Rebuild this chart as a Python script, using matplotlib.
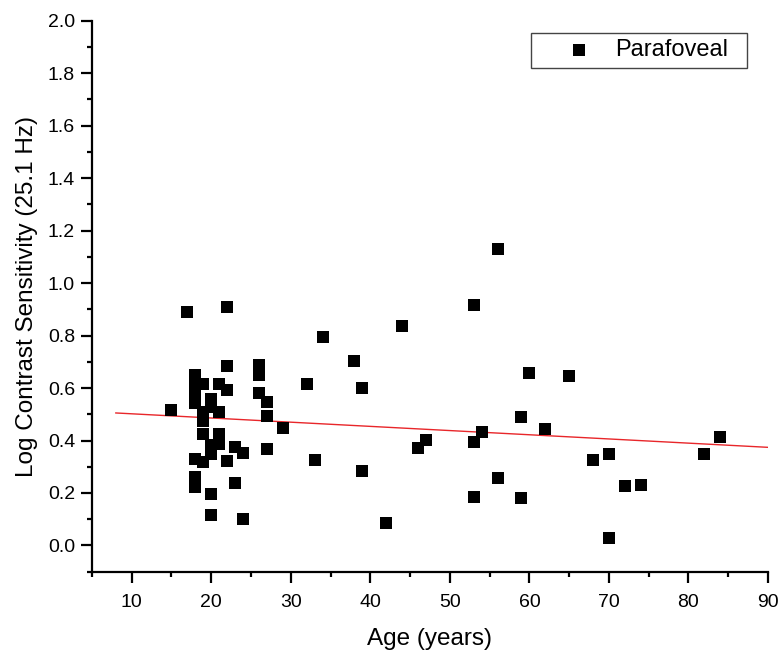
import matplotlib
matplotlib.use("Agg")
import matplotlib.pyplot as plt
from matplotlib.ticker import MultipleLocator
from matplotlib.patches import Rectangle

plt.rcParams['font.family'] = ['Liberation Sans', 'DejaVu Sans']

age = [15, 17,
       18, 18, 18, 18, 18, 18, 18,
       19, 19, 19, 19, 19,
       20, 20, 20, 20, 20, 20,
       21, 21, 21, 21,
       22, 22, 22, 22,
       23, 23, 24, 24,
       26, 26, 26, 27, 27, 27, 29,
       32, 33, 34, 38, 39, 39, 42, 44, 46, 47,
       53, 53, 53, 54, 56, 56, 59, 59, 60, 62, 65,
       68, 70, 70, 72, 74, 82, 84]
lcs = [0.518, 0.890,
       0.649, 0.614, 0.578, 0.543, 0.330, 0.261, 0.223,
       0.614, 0.508, 0.473, 0.423, 0.317,
       0.558, 0.528, 0.382, 0.347, 0.197, 0.116,
       0.614, 0.508, 0.426, 0.387,
       0.910, 0.684, 0.594, 0.322,
       0.377, 0.237, 0.352, 0.101,
       0.689, 0.649, 0.580, 0.546, 0.493, 0.368, 0.448,
       0.614, 0.327, 0.795, 0.704, 0.601, 0.282, 0.086, 0.835, 0.372, 0.403,
       0.915, 0.393, 0.183, 0.433, 1.129, 0.257, 0.488, 0.181, 0.659, 0.442, 0.646,
       0.325, 0.348, 0.028, 0.225, 0.232, 0.347, 0.412]

fit_x = [8, 90]
fit_y = [0.505, 0.374]

fig = plt.figure(figsize=(7.8, 6.53), dpi=100)
ax = fig.add_axes([0.1179, 0.1245, 0.8667, 0.8438])

ax.scatter(age, lcs, marker='s', s=66, color='black', linewidths=0, label='Parafoveal', zorder=3)
ax.plot(fit_x, fit_y, color='#e8262a', lw=1.0, zorder=2)

ax.set_xlim(5, 90)
ax.set_ylim(-0.1, 2.0)
ax.xaxis.set_minor_locator(MultipleLocator(5))
ax.yaxis.set_minor_locator(MultipleLocator(0.1))
ax.set_xticks(range(10, 91, 10))
ax.set_yticks([0.0, 0.2, 0.4, 0.6, 0.8, 1.0, 1.2, 1.4, 1.6, 1.8, 2.0])
ax.set_yticklabels(['0.0', '0.2', '0.4', '0.6', '0.8', '1.0', '1.2', '1.4', '1.6', '1.8', '2.0'])

for s in ['top', 'right']:
    ax.spines[s].set_visible(False)
for s in ['left', 'bottom']:
    ax.spines[s].set_linewidth(1.6)

ax.tick_params(which='major', direction='out', length=7.7, width=1.6, labelsize=14)
ax.tick_params(which='minor', direction='out', length=3.6, width=1.6)
ax.tick_params(axis='x', which='major', pad=8.5)
ax.tick_params(axis='y', which='major', pad=4.5)

ax.set_xlabel('Age (years)', fontsize=17.5, labelpad=12)
ax.set_ylabel('Log Contrast Sensitivity (25.1 Hz)', fontsize=17.5, labelpad=7)

# legend: box + entry
fig.patches.append(Rectangle((531 / 780, 1 - 68 / 653), 216 / 780, 35 / 653,
                             transform=fig.transFigure, fill=False,
                             edgecolor='#444444', linewidth=1.0, zorder=5))
leg = ax.legend(loc='center left', bbox_to_anchor=(555.4 / 780, 1 - 50.5 / 653),
                bbox_transform=fig.transFigure, fontsize=17, frameon=False,
                borderpad=0, borderaxespad=0, handlelength=2.0, handletextpad=0.53,
                markerscale=1.0)

fig.savefig('out.png', dpi=100)
